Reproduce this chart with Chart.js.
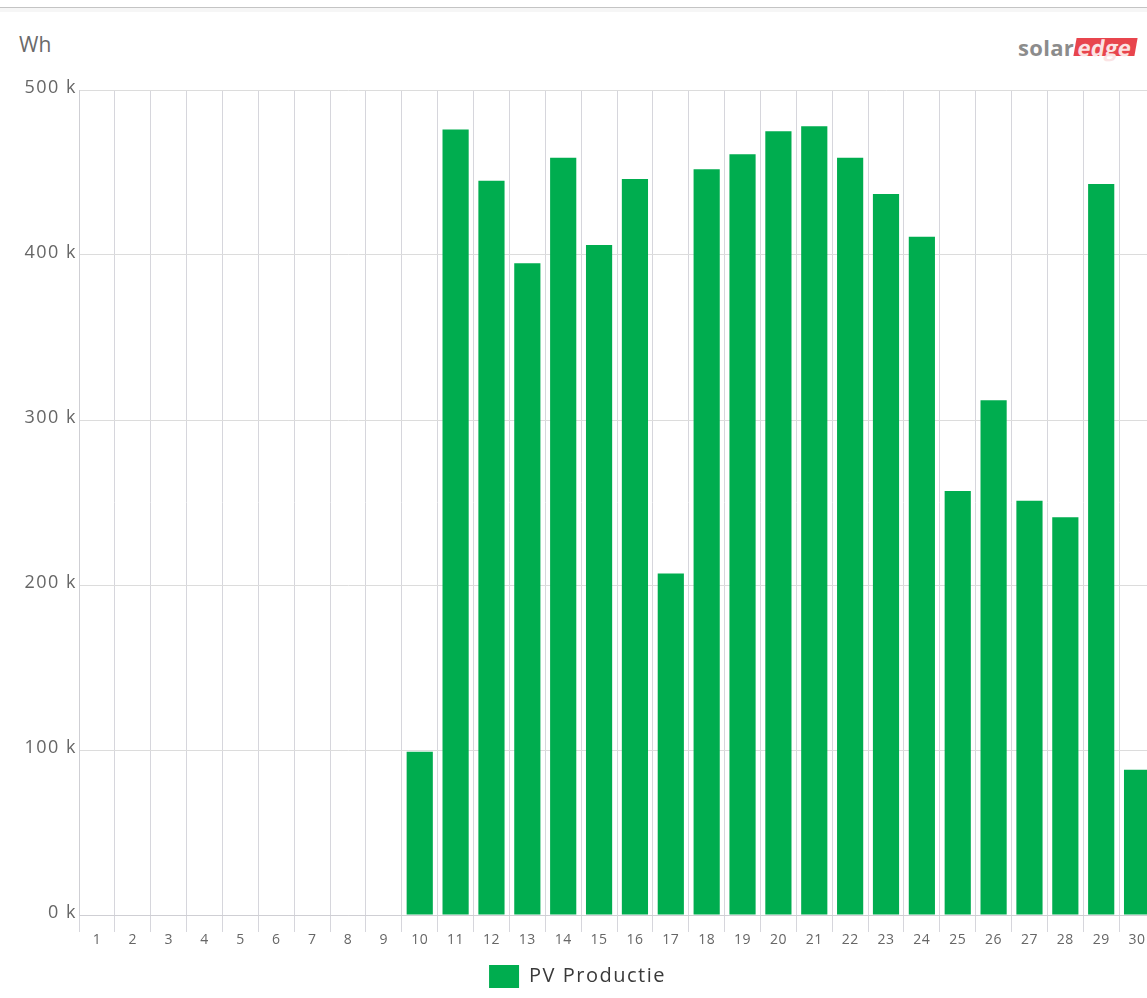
<!DOCTYPE html>
<html>
<head>
<meta charset="utf-8">
<script src="https://cdn.jsdelivr.net/npm/chart.js@4.4.1/dist/chart.umd.min.js"></script>
<style>
  html, body { margin: 0; padding: 0; background: #fff; overflow: hidden; width: 1147px; height: 998px; }
  #topline { position: absolute; left: 0; top: 7px; width: 1147px; height: 1px; background: #c4c4c4; }
  #topshade { position: absolute; left: 0; top: 8px; width: 1147px; height: 4px; background: #f6f6f6; }
  #unit { position: absolute; left: 19px; top: 30px; font-family: "Open Sans", sans-serif; font-size: 21px; color: #6a6a6a; line-height: normal; }
  #logo { position: absolute; left: 1018px; top: 36px; font-family: "Open Sans", sans-serif; font-weight: 700; font-size: 22px; letter-spacing: 0.3px; line-height: 22px; white-space: nowrap; }
  #logo .solar { color: #8c8c8c; }
  #logo .edge { color: #fbe3e4; background: #e8454d; padding: 0 4px 0 3px; transform: skewX(-10deg); display: inline-block; line-height: 18px; margin-left: 1px; }
  #wrap { position: absolute; left: 0; top: 0; width: 1155px; height: 998px; }
</style>
</head>
<body>
<div id="topline"></div>
<div id="topshade"></div>
<div id="unit">Wh</div>
<div id="logo"><span class="solar">solar</span><span class="edge">edge</span></div>
<div id="wrap"><canvas id="c"></canvas></div>
<script>
const days = ['1','2','3','4','5','6','7','8','9','10','11','12','13','14','15','16','17','18','19','20','21','22','23','24','25','26','27','28','29','30'];
const pvProductie = [0,0,0,0,0,0,0,0,0,99000,476000,445000,395000,459000,406000,446000,207000,452000,461000,475000,478000,459000,437000,411000,257000,312000,251000,241000,443000,88000];
const yTicks = [0,100000,200000,300000,400000,500000];
const seriesName = 'PV Productie';

const FONT = '"Open Sans", sans-serif';

function spaced(obj, name, sp) {
  if (!obj || obj['__sp_' + name]) return;
  const f = obj[name];
  obj[name] = function (...a) {
    const c = this.ctx;
    const prev = c.letterSpacing;
    c.letterSpacing = sp;
    try { return f.apply(this, a); } finally { c.letterSpacing = prev; }
  };
  obj['__sp_' + name] = true;
}

const spacingPlugin = {
  id: 'spacing',
  beforeUpdate(chart) {
    spaced(chart.legend, 'fit', '1.5px');
    spaced(chart.legend, 'draw', '1.5px');
  },
  afterUpdate(chart) {
    spaced(chart.scales.y, 'drawLabels', '1.5px');
    spaced(chart.scales.x, 'drawLabels', '0.5px');
  }
};

new Chart(document.getElementById('c'), {
  type: 'bar',
  data: {
    labels: days,
    datasets: [{
      label: seriesName,
      data: pvProductie,
      backgroundColor: '#00ad4f',
      borderWidth: 0,
      categoryPercentage: 1.0,
      barPercentage: 0.73
    }]
  },
  plugins: [spacingPlugin],
  options: {
    responsive: true,
    maintainAspectRatio: false,
    animation: false,
    layout: { padding: { top: 90, left: 0, right: 0, bottom: 0 } },
    plugins: {
      tooltip: { enabled: false },
      legend: {
        position: 'bottom',
        labels: {
          font: { family: FONT, size: 20 },
          color: '#3a3a3a',
          boxWidth: 30,
          boxHeight: 23,
          padding: 3
        }
      }
    },
    scales: {
      x: {
        offset: true,
        grid: { offset: true, color: '#d6d6dc', lineWidth: 1, tickLength: 17, drawOnChartArea: true },
        border: { color: '#cfcfd4' },
        ticks: { font: { family: FONT, size: 14 }, color: '#666', padding: 0, maxRotation: 0, autoSkip: false },
        afterFit: s => { s.height = 47; }
      },
      y: {
        min: 0, max: 500000,
        afterBuildTicks: s => { s.ticks = yTicks.map(v => ({ value: v })); },
        grid: { color: '#dcdcdc', drawTicks: false },
        border: { color: '#cfcfd4' },
        ticks: { font: { family: FONT, size: 18 }, color: '#666', padding: 2, labelOffset: -2, callback: v => (v / 1000) + ' k' },
        afterFit: s => { s.width = 79; }
      }
    }
  }
});
</script>
</body>
</html>
